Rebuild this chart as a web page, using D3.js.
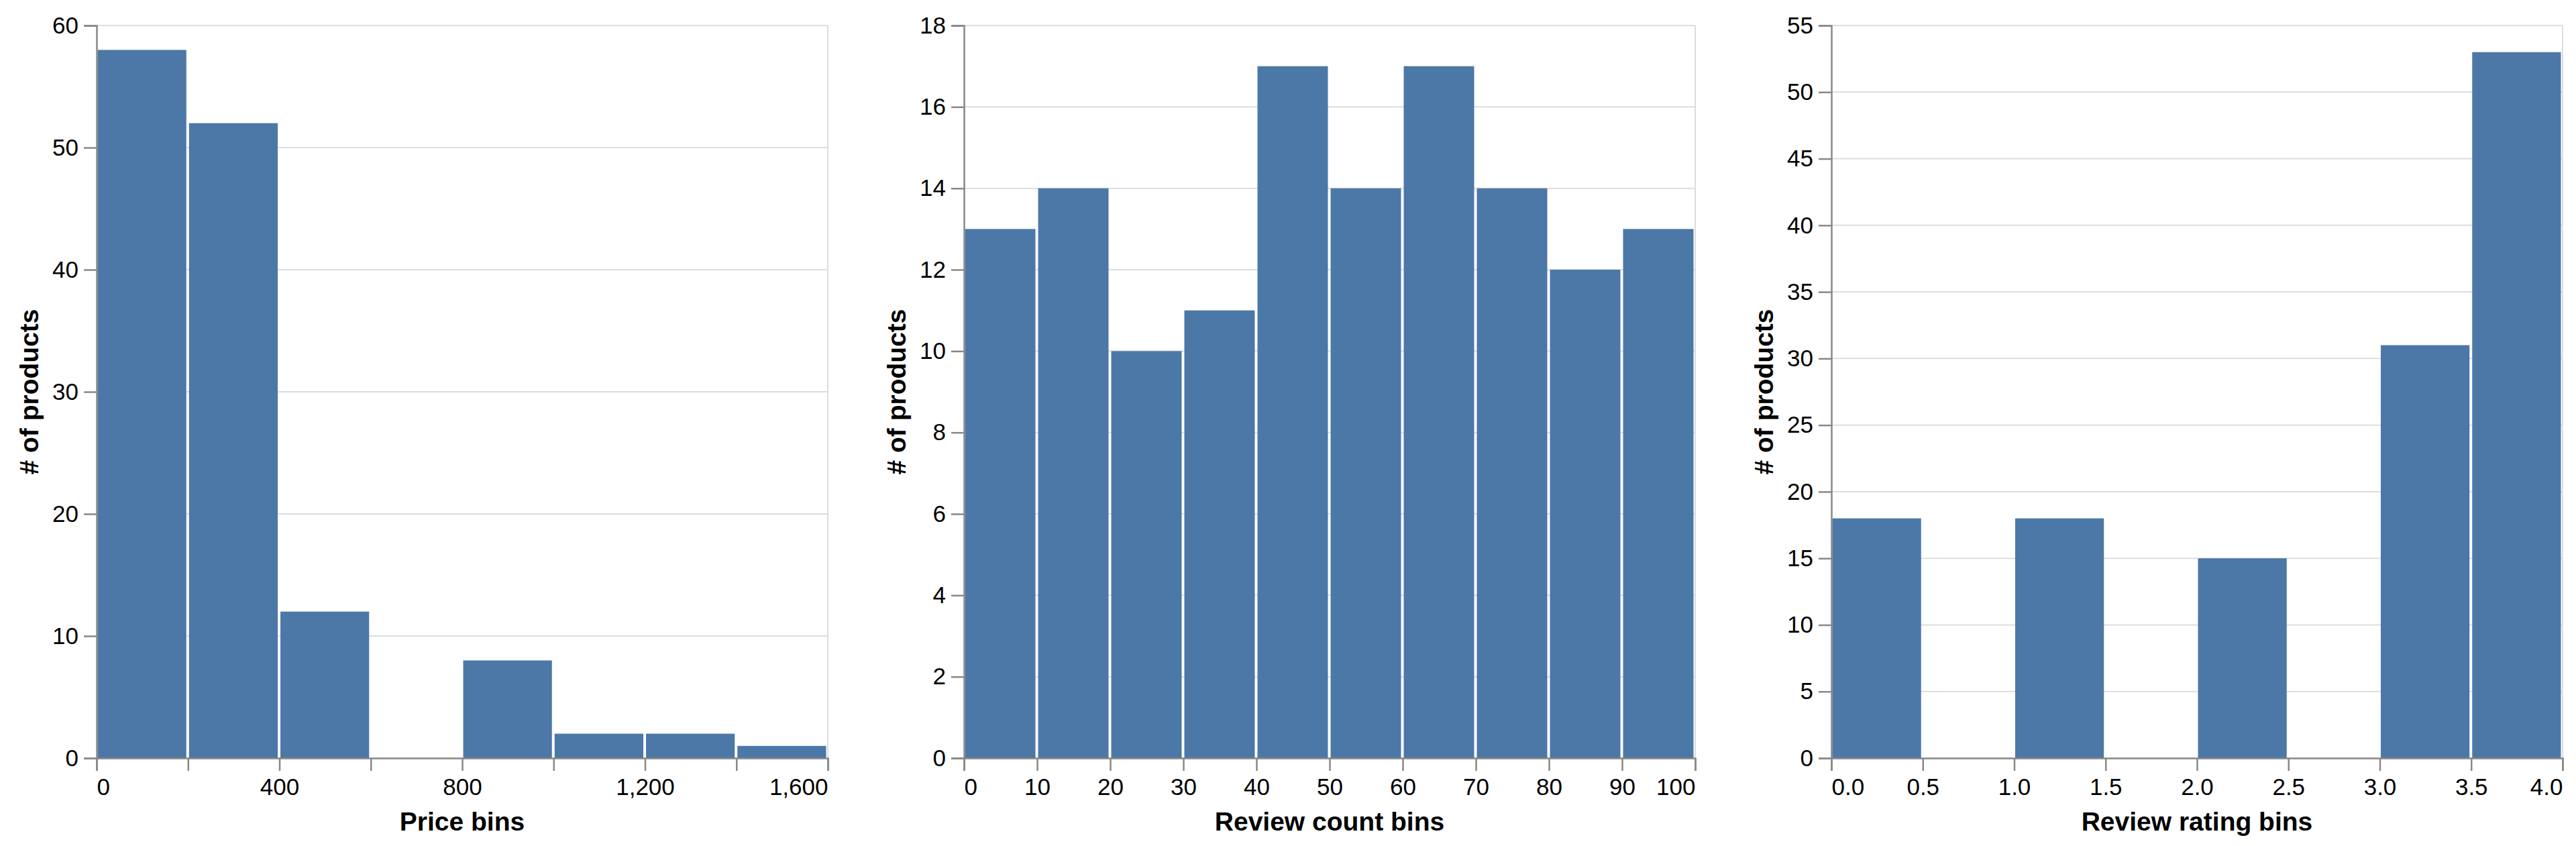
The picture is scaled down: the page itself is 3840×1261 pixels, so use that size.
<!DOCTYPE html>
<html>
<head>
<meta charset="utf-8">
<script src="https://cdn.jsdelivr.net/npm/d3@7"></script>
<style>
  html, body { margin: 0; padding: 0; background: #fff; }
  svg { display: block; }
  text { font-family: "Liberation Sans", Arial, Helvetica, sans-serif; fill: #000; }
</style>
</head>
<body>
<svg id="chart" width="3840" height="1261"></svg>
<script>
// ---- Data ----
const priceBinEdges = [0, 200, 400, 600, 800, 1000, 1200, 1400, 1600];
const priceCounts = [58, 52, 12, 0, 8, 2, 2, 1];
const priceLabels = [0, 400, 800, 1200, 1600];
const priceYTicks = [0, 10, 20, 30, 40, 50, 60];

const reviewCountBinEdges = [0, 10, 20, 30, 40, 50, 60, 70, 80, 90, 100];
const reviewCountCounts = [13, 14, 10, 11, 17, 14, 17, 14, 12, 13];
const reviewCountLabels = [0, 10, 20, 30, 40, 50, 60, 70, 80, 90, 100];
const reviewCountYTicks = [0, 2, 4, 6, 8, 10, 12, 14, 16, 18];

const ratingBinEdges = [0, 0.5, 1.0, 1.5, 2.0, 2.5, 3.0, 3.5, 4.0];
const ratingCounts = [18, 0, 18, 0, 15, 0, 31, 53];
const ratingLabels = [0, 0.5, 1.0, 1.5, 2.0, 2.5, 3.0, 3.5, 4.0];
const ratingYTicks = [0, 5, 10, 15, 20, 25, 30, 35, 40, 45, 50, 55];

const xTitles = ["Price bins", "Review count bins", "Review rating bins"];
const yTitle = "# of products";

const panels = [
  { edges: priceBinEdges, counts: priceCounts, labels: priceLabels, yTicks: priceYTicks, xTitle: xTitles[0], fmt: d3.format(",") },
  { edges: reviewCountBinEdges, counts: reviewCountCounts, labels: reviewCountLabels, yTicks: reviewCountYTicks, xTitle: xTitles[1], fmt: d3.format("d") },
  { edges: ratingBinEdges, counts: ratingCounts, labels: ratingLabels, yTicks: ratingYTicks, xTitle: xTitles[2], fmt: d3.format(".1f") }
];

// ---- Layout ----
const W = 1090, H = 1092, TOP = 38;
const lefts = [144, 1437, 2730];
const tickLen = 19;
const labelSize = 35, titleSize = 39;
const barColor = "#4c78a8";

const svg = d3.select("#chart");

panels.forEach((p, i) => {
  const g = svg.append("g").attr("transform", `translate(${lefts[i]},${TOP})`);
  const x = d3.scaleLinear().domain([p.edges[0], p.edges[p.edges.length - 1]]).range([0, W]);
  const y = d3.scaleLinear().domain([0, d3.max(p.yTicks)]).range([H, 0]);

  // grid
  g.append("g").selectAll("line").data(p.yTicks).join("line")
    .attr("x1", 0).attr("x2", W)
    .attr("y1", d => y(d)).attr("y2", d => y(d))
    .attr("stroke", "#ddd").attr("stroke-width", 2);
  // view border (right)
  g.append("line").attr("x1", W).attr("x2", W).attr("y1", 0).attr("y2", H)
    .attr("stroke", "#ddd").attr("stroke-width", 2);

  // bars
  const bins = p.counts.map((c, k) => ({ x0: p.edges[k], x1: p.edges[k + 1], c }));
  g.append("g").selectAll("rect").data(bins.filter(b => b.c > 0)).join("rect")
    .attr("x", d => x(d.x0) + 1.5)
    .attr("width", d => x(d.x1) - x(d.x0) - 4)
    .attr("y", d => y(d.c))
    .attr("height", d => y(0) - y(d.c))
    .attr("fill", barColor);

  // x axis
  const labelSet = new Set(p.labels.map(v => +v.toFixed(6)));
  const xAxis = d3.axisBottom(x).tickValues(p.edges).tickSize(tickLen).tickPadding(11)
    .tickFormat(d => labelSet.has(+d.toFixed(6)) ? p.fmt(d) : "");
  const xa = g.append("g").attr("transform", `translate(0,${H})`).call(xAxis);
  xa.select(".domain").attr("stroke", "#888").attr("stroke-width", 2.5);
  xa.selectAll(".tick line").attr("stroke", "#888").attr("stroke-width", 2.5);
  xa.selectAll(".tick text").attr("font-size", labelSize).attr("font-family", null).attr("fill", "#000");
  const lastEdge = p.edges[p.edges.length - 1];
  xa.selectAll(".tick text").attr("text-anchor", d => d === p.edges[0] ? "start" : (d === lastEdge ? "end" : "middle"));

  // y axis
  const yAxis = d3.axisLeft(y).tickValues(p.yTicks).tickSize(tickLen).tickPadding(8).tickFormat(d3.format("d"));
  const ya = g.append("g").call(yAxis);
  ya.select(".domain").attr("stroke", "#888").attr("stroke-width", 2.5);
  ya.selectAll(".tick line").attr("stroke", "#888").attr("stroke-width", 2.5);
  ya.selectAll(".tick text").attr("font-size", labelSize).attr("font-family", null).attr("fill", "#000");
  svg.selectAll(".domain").attr("fill", "none");

  // titles
  g.append("text").attr("x", W / 2).attr("y", H + 108)
    .attr("text-anchor", "middle").attr("font-weight", "bold").attr("font-size", titleSize)
    .text(p.xTitle);
  g.append("text").attr("transform", `translate(${-87},${H / 2}) rotate(-90)`)
    .attr("text-anchor", "middle").attr("font-weight", "bold").attr("font-size", titleSize)
    .text(yTitle);
});
</script>
</body>
</html>
